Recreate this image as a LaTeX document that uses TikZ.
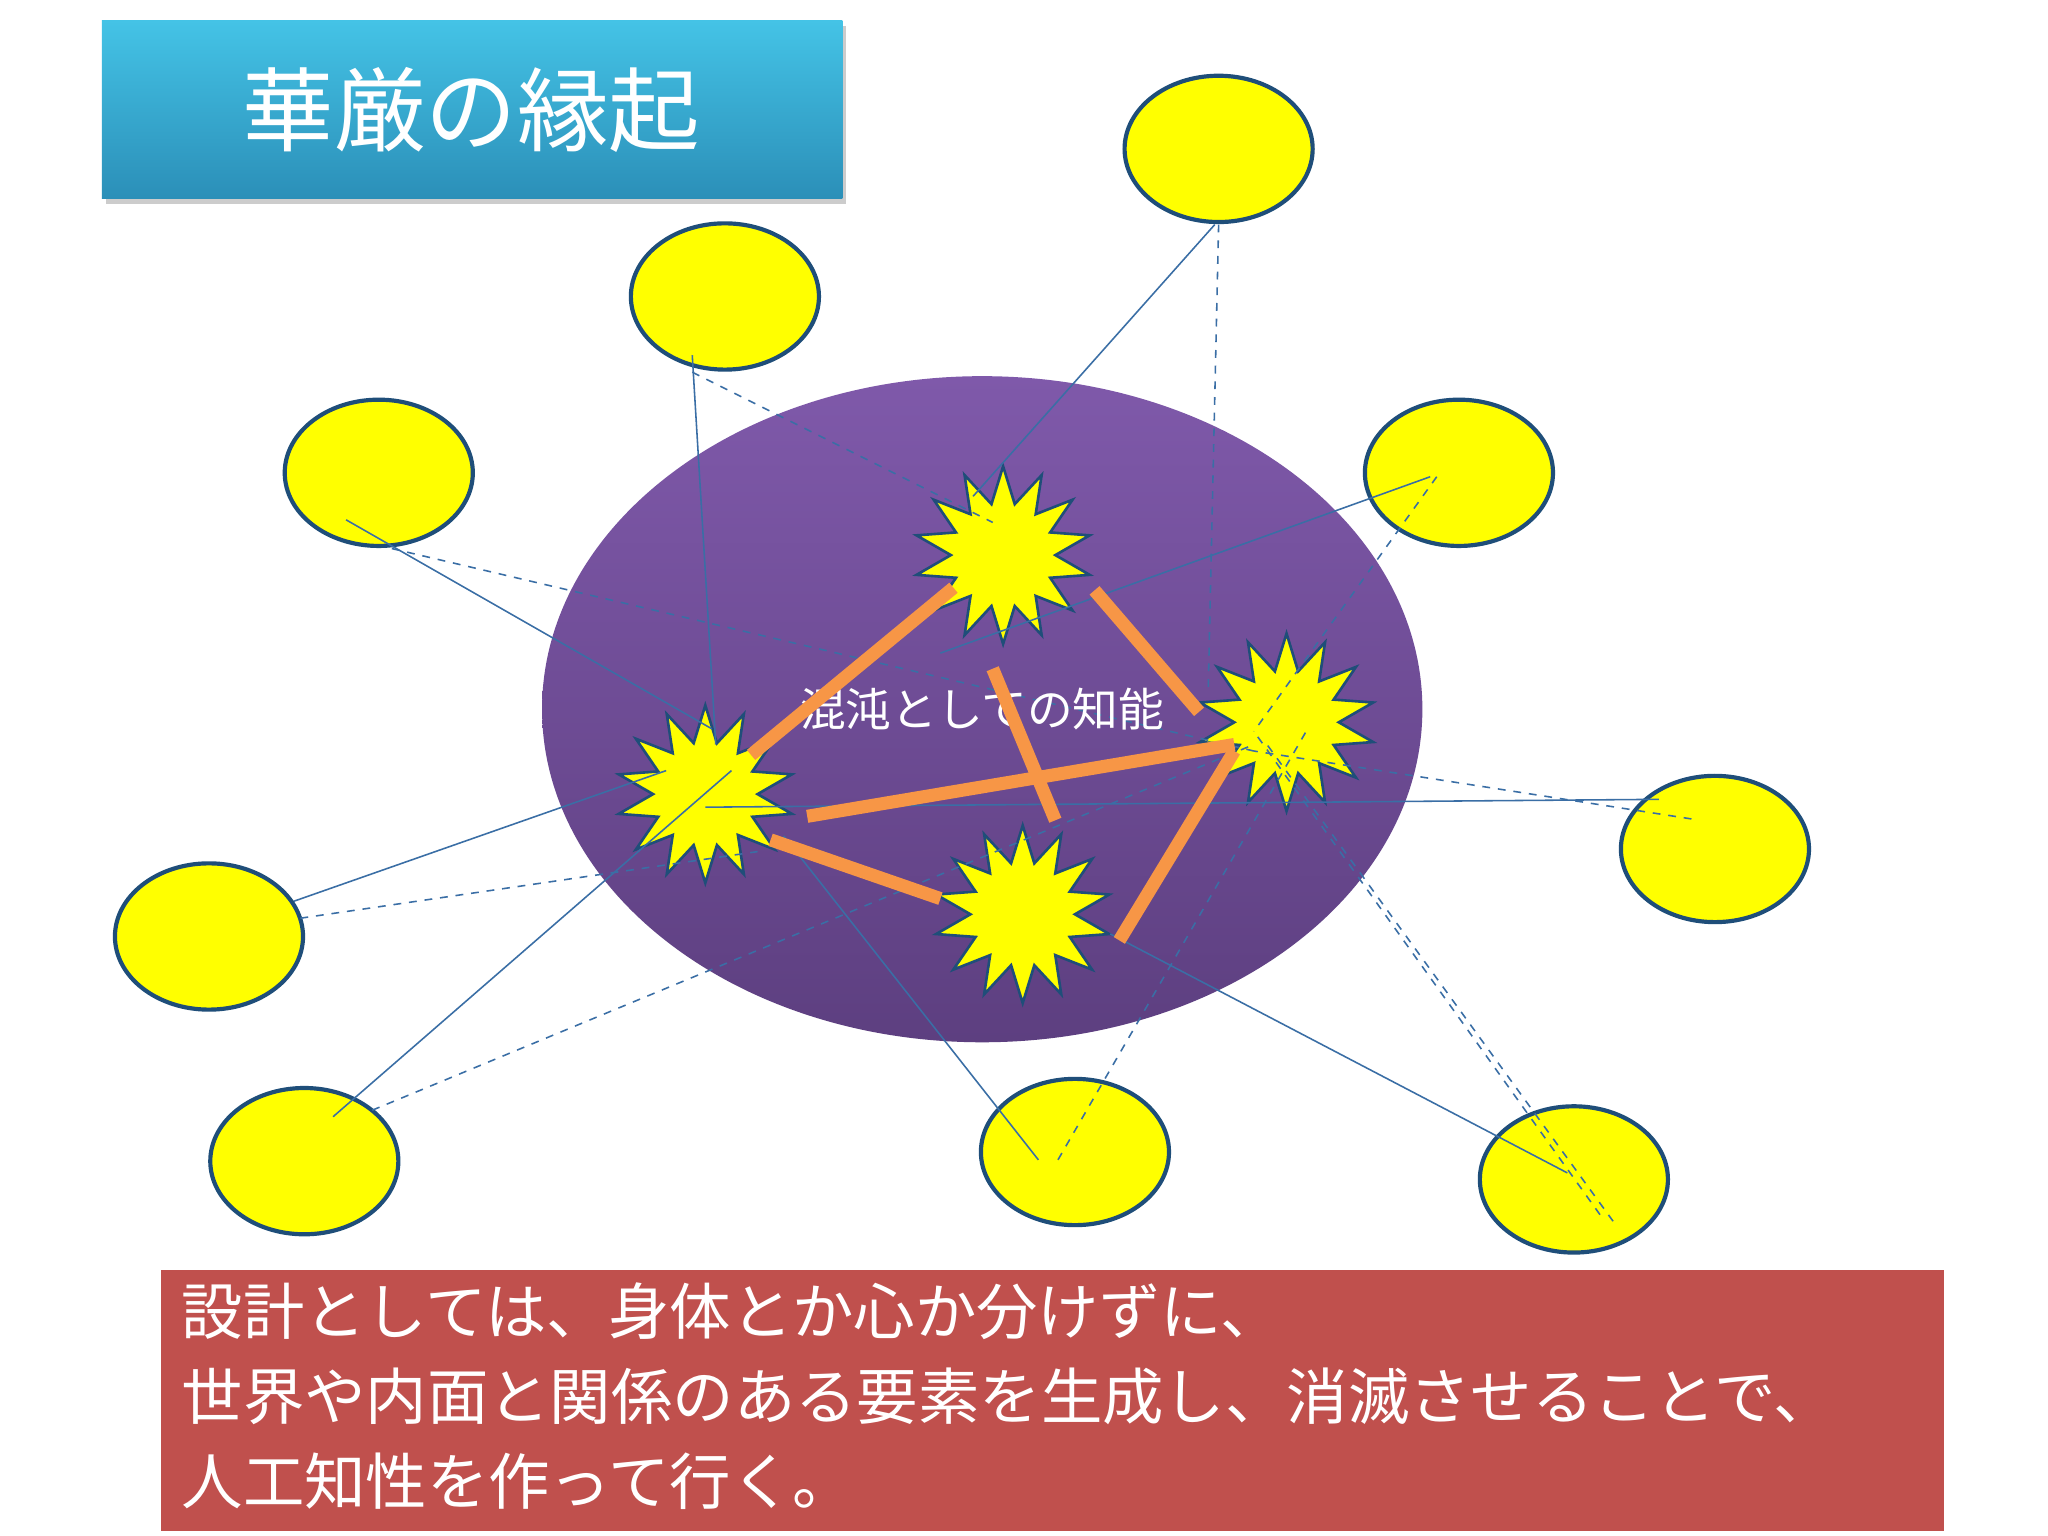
\documentclass[tikz,border=0pt]{standalone}
\usepackage{fontspec}
\setmainfont{Noto Sans CJK JP}
\usetikzlibrary{shapes.geometric}
\definecolor{ylw}{HTML}{FFFF00}
\definecolor{edge}{HTML}{1F4E79}
\definecolor{thinc}{HTML}{3A6EA5}
\definecolor{org}{HTML}{F79646}
\definecolor{redbox}{HTML}{C0504D}
\definecolor{ttop}{HTML}{44C3E6}
\definecolor{tbot}{HTML}{2B8FB8}
\definecolor{ptop}{HTML}{7F59AA}
\definecolor{pbot}{HTML}{5D3F80}
\tikzset{
 ball/.style={ellipse,draw=edge,line width=1.6pt,fill=ylw,minimum width=72pt,minimum height=56pt},
 burst/.style={star,star points=14,star point ratio=1.7,draw=edge,line width=1pt,fill=ylw,minimum size=68pt},
 link/.style={org,line width=5pt},
 sl/.style={draw=thinc,line width=0.6pt},
 dl/.style={draw=thinc,line width=0.6pt,dashed},
}
\begin{document}
\begin{tikzpicture}[x=0.5pt,y=-0.5pt]
\useasboundingbox (0,0) rectangle (1568,1176);
\fill[white] (0,0) rectangle (1568,1176);
% title
\fill[gray!40] (81,20) rectangle (648,156);
\shade[top color=ttop,bottom color=tbot] (78,16) rectangle (645,152);
\node[text=white,font=\fontsize{35}{40}\selectfont] (title) at (361,84) {華厳の縁起};
% purple ellipse
\shade[top color=ptop,bottom color=pbot] (752,543) ellipse [x radius=337, y radius=255];
% balls
\node[ball] (b1) at (933,114) {};
\node[ball] (b2) at (555,227) {};
\node[ball] (b3) at (290,362) {};
\node[ball] (b4) at (1117,362) {};
\node[ball] (b5) at (1313,650) {};
\node[ball] (b6) at (160,717) {};
\node[ball] (b7) at (233,889) {};
\node[ball] (b8) at (823,882) {};
\node[ball] (b9) at (1205,903) {};
% bursts
\node[burst] (s1) at (768,425) {};
\node[burst] (s2) at (540,608) {};
\node[burst] (s3) at (985,553) {};
\node[burst] (s4) at (783,700) {};
% coordinates
\coordinate (p1a) at (930,172); \coordinate (q1a) at (745,380);
\coordinate (p1b) at (933,172); \coordinate (q1b) at (925,530);
\coordinate (p2a) at (530,272); \coordinate (q2a) at (548,570);
\coordinate (p2b) at (530,285); \coordinate (q2b) at (760,400);
\coordinate (p3a) at (265,398); \coordinate (q3a) at (545,558);
\coordinate (p3b) at (300,420); \coordinate (q3b) at (960,575);
\coordinate (p4a) at (1095,365); \coordinate (q4a) at (720,500);
\coordinate (p4b) at (1100,365); \coordinate (q4b) at (960,560);
\coordinate (p5a) at (1270,612); \coordinate (q5a) at (540,618);
\coordinate (p5b) at (1295,627); \coordinate (q5b) at (960,575);
\coordinate (p6a) at (225,690); \coordinate (q6a) at (510,590);
\coordinate (p6b) at (230,703); \coordinate (q6b) at (580,652);
\coordinate (p7a) at (255,855); \coordinate (q7a) at (560,590);
\coordinate (p7b) at (285,850); \coordinate (q7b) at (960,570);
\coordinate (p8a) at (795,888); \coordinate (q8a) at (600,640);
\coordinate (p8b) at (810,888); \coordinate (q8b) at (1000,560);
\coordinate (p9a) at (1200,898); \coordinate (q9a) at (850,715);
\coordinate (p9b) at (1235,935); \coordinate (q9b) at (970,570);
\coordinate (p9c) at (1225,930); \coordinate (q9c) at (960,560);
\foreach \i in {1a,2a,3a,4a,5a,6a,7a,8a,9a} \draw[sl] (p\i) -- (q\i);
\foreach \i in {1b,2b,3b,4b,5b,6b,7b,8b,9b,9c} \draw[dl] (p\i) -- (q\i);
\node[text=white,font=\fontsize{17.5}{20}\selectfont] (chaos) at (752,543) {混沌としての知能};
% orange links
\coordinate (o1) at (730,450); \coordinate (o2) at (575,578);
\coordinate (o3) at (838,452); \coordinate (o4) at (918,545);
\coordinate (o5) at (760,512); \coordinate (o6) at (808,628);
\coordinate (o7) at (618,625); \coordinate (o8) at (945,570);
\coordinate (o9) at (945,575); \coordinate (o10) at (857,720);
\coordinate (o11) at (590,643); \coordinate (o12) at (720,688);
\draw[link] (o1)--(o2); \draw[link] (o3)--(o4); \draw[link] (o5)--(o6);
\draw[link] (o7)--(o8); \draw[link] (o9)--(o10); \draw[link] (o11)--(o12);
% bottom box
\fill[redbox] (123,972) rectangle (1488,1172);
\node[anchor=north west,text=white,align=left,font=\fontsize{23.5}{32.5}\selectfont] (txt) at (132,975) {設計としては、身体とか心か分けずに、\\世界や内面と関係のある要素を生成し、消滅させることで、\\人工知性を作って行く。};
\end{tikzpicture}
\end{document}
